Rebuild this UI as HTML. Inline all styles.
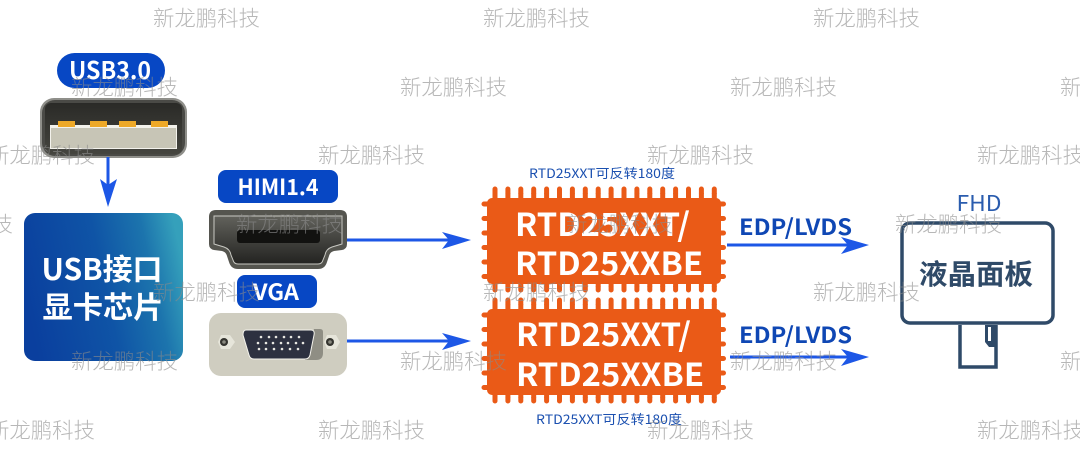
<!DOCTYPE html>
<html><head><meta charset="utf-8"><style>
html,body{margin:0;padding:0;background:#fff;width:1080px;height:458px;overflow:hidden}
svg{display:block}
text{font-family:"Noto Sans CJK SC","Liberation Sans",sans-serif}
.w{font-size:21.4px;fill:#8a8a8a;fill-opacity:.62;font-weight:300}
.chip{font-size:32px;font-weight:700;fill:#fff}
.lab{font-weight:700;fill:#fff;text-anchor:middle}
.edp{font-size:22px;font-weight:700;fill:#0f47b4}
.sm{font-size:13px;fill:#1b50b0}
.ar{stroke:#1d57e6;stroke-width:3;fill:none}
.hd{fill:#1d57e6}
</style></head><body>
<svg width="1080" height="458" viewBox="0 0 1080 458" xmlns="http://www.w3.org/2000/svg">
<defs>
<linearGradient id="g" x1="0" y1="0.55" x2="1" y2="0.35">
<stop offset="0" stop-color="#0a3f9e"/><stop offset=".5" stop-color="#0f54a6"/><stop offset=".8" stop-color="#1c74ad"/><stop offset="1" stop-color="#35a0bb"/>
</linearGradient>
<linearGradient id="h" x1="0" y1="0" x2="0" y2="1">
<stop offset="0" stop-color="#62625c"/><stop offset=".55" stop-color="#3f3f3b"/><stop offset="1" stop-color="#232321"/>
</linearGradient>
<linearGradient id="u" x1="0" y1="0" x2="0" y2="1">
<stop offset="0" stop-color="#2a2a27"/><stop offset="1" stop-color="#45453f"/>
</linearGradient>
<g id="chip">
<rect x="487" y="9" width="234" height="86" rx="5" fill="#ea5a17"/>
<path d="M495 4V0M507.900 4V0M520.800 4V0M533.700 4V0M546.600 4V0M559.500 4V0M572.400 4V0M585.300 4V0M598.200 4V0M611.100 4V0M624 4V0M636.900 4V0M649.800 4V0M662.700 4V0M675.600 4V0M688.500 4V0M701.400 4V0M714.300 4V0
M495 98V101M507.900 98V101M520.800 98V101M533.700 98V101M546.600 98V101M559.500 98V101M572.400 98V101M585.300 98V101M598.200 98V101M611.100 98V101M624 98V101M636.900 98V101M649.800 98V101M662.700 98V101M675.600 98V101M688.500 98V101M701.400 98V101M714.300 98V101" stroke="#ea5a17" stroke-width="5" stroke-linecap="round" fill="none"/>
<path d="M495 4V10M507.900 4V10M520.800 4V10M533.700 4V10M546.600 4V10M559.500 4V10M572.400 4V10M585.300 4V10M598.200 4V10M611.100 4V10M624 4V10M636.900 4V10M649.800 4V10M662.700 4V10M675.600 4V10M688.500 4V10M701.400 4V10M714.300 4V10
M495 92V98M507.900 92V98M520.800 92V98M533.700 92V98M546.600 92V98M559.500 92V98M572.400 92V98M585.300 92V98M598.200 92V98M611.100 92V98M624 92V98M636.900 92V98M649.800 92V98M662.700 92V98M675.600 92V98M688.500 92V98M701.400 92V98M714.300 92V98" stroke="#ea5a17" stroke-width="5" fill="none"/>
<path d="M490 15H484M490 29.500H484M490 44H484M490 58.500H484M490 73H484M490 87.500H484M718 15H723.500M718 29.500H723.500M718 44H723.500M718 58.500H723.500M718 73H723.500M718 87.500H723.500" stroke="#ea5a17" stroke-width="5" stroke-linecap="round" fill="none"/>
</g>
</defs>

<!-- USB -->
<rect x="57" y="53" width="108" height="35" rx="17.500" fill="#0747c4"/>
<text class="lab" x="110" y="79" font-size="24" textLength="82" lengthAdjust="spacingAndGlyphs">USB3.0</text>
<rect x="40" y="98" width="147" height="60" rx="14" fill="#8f8f8a"/>
<rect x="42" y="100" width="143" height="56" rx="13" fill="#4a4a46"/>
<rect x="45" y="103" width="137" height="51" rx="6" fill="url(#u)"/>
<rect x="50" y="125" width="127" height="24" fill="#f3f2ec"/>
<rect x="51" y="128" width="125" height="20" fill="#c7c5b6"/>
<rect x="58" y="121" width="17" height="6" fill="#eea928"/>
<rect x="90" y="121" width="17" height="6" fill="#eea928"/>
<rect x="119" y="121" width="17" height="6" fill="#eea928"/>
<rect x="151" y="121" width="17" height="6" fill="#eea928"/>
<path class="ar" d="M108 157V195"/>
<path class="hd" d="M108 207L100 179L108 185L117 179Z"/>

<!-- USB card -->
<rect x="24" y="213" width="159" height="148" rx="11" fill="url(#g)"/>
<text class="lab" x="102" y="280" font-size="30" textLength="121" lengthAdjust="spacingAndGlyphs">USB接口</text>
<text class="lab" x="103" y="318" font-size="30" textLength="121" lengthAdjust="spacingAndGlyphs">显卡芯片</text>

<!-- HDMI -->
<rect x="218" y="170" width="120" height="33" rx="8" fill="#0747c4"/>
<text class="lab" x="278" y="195" font-size="22" textLength="81" lengthAdjust="spacingAndGlyphs">HIMI1.4</text>
<path d="M216 210H340Q347 210 347 217V244Q347 249 342 250L334 251Q330 252 329 256L327 262Q325 269 318 269H238Q231 269 229 262L227 256Q226 252 222 251L214 250Q209 249 209 244V217Q209 210 216 210Z" fill="#55554f"/>
<path d="M214 216H342V244L332 247Q326 249 325 255L323 260Q322 264 318 264H238Q234 264 233 260L231 255Q230 249 224 247L214 244Z" fill="url(#h)" stroke="#c9c9c3" stroke-width="1"/>
<rect x="237" y="230" width="83" height="13" rx="3" fill="#121210"/>
<path class="ar" d="M347 240H458"/>
<path class="hd" d="M471 240L442 232L449 240L442 249Z"/>

<!-- VGA -->
<rect x="237" y="275" width="80" height="33" rx="8" fill="#0747c4"/>
<text class="lab" x="276" y="300" font-size="22" textLength="46" lengthAdjust="spacingAndGlyphs">VGA</text>
<rect x="209" y="313" width="138" height="63" rx="12" fill="#cfcdc0"/>
<path d="M314 329H320Q323 329 323 332V353Q323 360 316 360H305Z" fill="#8f8e84"/>
<path d="M246 330H311Q315 330 314 335L310 355Q309 359 305 359H254Q250 359 249 355L243 335Q243 330 246 330Z" fill="#2d3140" stroke="#f4f3ec" stroke-width="1"/>
<g fill="#e8e8e2">
<circle cx="261" cy="337" r="1.300"/><circle cx="269" cy="337" r="1.300"/><circle cx="276" cy="337" r="1.300"/><circle cx="284" cy="337" r="1.300"/><circle cx="291" cy="337" r="1.300"/><circle cx="299" cy="337" r="1.300"/>
<circle cx="258" cy="343" r="1.300"/><circle cx="266" cy="343" r="1.300"/><circle cx="273" cy="343" r="1.300"/><circle cx="281" cy="343" r="1.300"/><circle cx="288" cy="343" r="1.300"/><circle cx="296" cy="343" r="1.300"/><circle cx="303" cy="343" r="1.300"/>
<circle cx="259" cy="349" r="1.300"/><circle cx="266" cy="349" r="1.300"/><circle cx="274" cy="349" r="1.300"/><circle cx="282" cy="349" r="1.300"/><circle cx="290" cy="349" r="1.300"/><circle cx="298" cy="349" r="1.300"/>
</g>
<path d="M221 335H230L235 342L230 349H221L218 342Z" fill="#e6e5da"/><circle cx="224" cy="342" r="4" fill="#34342f"/><circle cx="224" cy="342" r="1.800" fill="#8a8a80"/>
<path d="M327 335H336L340 342L336 349H327L324 342Z" fill="#e6e5da"/><circle cx="330" cy="342" r="4" fill="#34342f"/><circle cx="330" cy="342" r="1.800" fill="#8a8a80"/>
<path class="ar" d="M347 341H458"/>
<path class="hd" d="M471 341L442 333L449 341L442 350Z"/>

<!-- Chips -->
<text class="sm" x="529" y="178" textLength="146" lengthAdjust="spacingAndGlyphs">RTD25XXT可反转180度</text>
<use href="#chip" y="189"/>
<use href="#chip" y="300"/>
<text class="chip" x="515" y="236" textLength="175" lengthAdjust="spacingAndGlyphs">RTD25XXT/</text>
<text class="chip" x="515" y="275" textLength="188" lengthAdjust="spacingAndGlyphs">RTD25XXBE</text>
<text class="chip" x="516" y="346" textLength="175" lengthAdjust="spacingAndGlyphs">RTD25XXT/</text>
<text class="chip" x="516" y="386" textLength="188" lengthAdjust="spacingAndGlyphs">RTD25XXBE</text>
<text class="sm" x="536" y="424" textLength="146" lengthAdjust="spacingAndGlyphs">RTD25XXT可反转180度</text>

<!-- EDP -->
<text class="edp" x="739" y="235" textLength="113" lengthAdjust="spacingAndGlyphs">EDP/LVDS</text>
<text class="edp" x="739" y="343" textLength="113" lengthAdjust="spacingAndGlyphs">EDP/LVDS</text>
<path class="ar" d="M727 245H856"/>
<path class="hd" d="M869 245L841 237L848 245L841 254Z"/>
<path class="ar" d="M730 357H856"/>
<path class="hd" d="M869 357L841 349L848 357L841 366Z"/>

<!-- Monitor -->
<text x="979" y="211" font-size="22" fill="#2a5cae" text-anchor="middle" textLength="45" lengthAdjust="spacingAndGlyphs">FHD</text>
<rect x="902" y="223" width="151" height="100" rx="8" fill="#fff" stroke="#2f4a68" stroke-width="3.500"/>
<path d="M960 325V367H996V325" fill="none" stroke="#2f4a68" stroke-width="3.500"/>
<path d="M985 325V342L989 347H995V325Z" fill="#2f4a68"/>
<rect x="988" y="327" width="3" height="14" fill="#fff"/>
<text x="976" y="284" font-size="28" font-weight="700" fill="#2f4a68" text-anchor="middle" textLength="114" lengthAdjust="spacingAndGlyphs">液晶面板</text>

<!-- Watermarks -->
<text class="w" x="153" y="26">新龙鹏科技</text><text class="w" x="483" y="26">新龙鹏科技</text><text class="w" x="813" y="26">新龙鹏科技</text>
<text class="w" x="71" y="95">新龙鹏科技</text><text class="w" x="400" y="95">新龙鹏科技</text><text class="w" x="730" y="95">新龙鹏科技</text><text class="w" x="1060" y="95">新龙鹏科技</text>
<text class="w" x="-12" y="163">新龙鹏科技</text><text class="w" x="318" y="163">新龙鹏科技</text><text class="w" x="647" y="163">新龙鹏科技</text><text class="w" x="977" y="163">新龙鹏科技</text>
<text class="w" x="-94" y="232">新龙鹏科技</text><text class="w" x="236" y="232">新龙鹏科技</text><text class="w" x="566" y="232">新龙鹏科技</text><text class="w" x="895" y="232">新龙鹏科技</text>
<text class="w" x="153" y="300">新龙鹏科技</text><text class="w" x="483" y="300">新龙鹏科技</text><text class="w" x="813" y="300">新龙鹏科技</text>
<text class="w" x="71" y="369">新龙鹏科技</text><text class="w" x="400" y="369">新龙鹏科技</text><text class="w" x="730" y="369">新龙鹏科技</text><text class="w" x="1060" y="369">新龙鹏科技</text>
<text class="w" x="-12" y="438">新龙鹏科技</text><text class="w" x="318" y="438">新龙鹏科技</text><text class="w" x="647" y="438">新龙鹏科技</text><text class="w" x="977" y="438">新龙鹏科技</text>
</svg>
</body></html>
